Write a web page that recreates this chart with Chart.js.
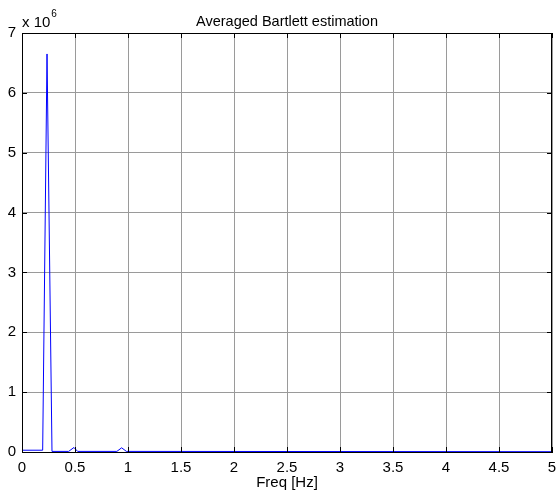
<!DOCTYPE html>
<html>
<head>
<meta charset="utf-8">
<script src="https://cdn.jsdelivr.net/npm/chart.js@4.4.0/dist/chart.umd.min.js"></script>
<style>
  html, body { margin: 0; padding: 0; background: #fff; }
  #wrap { width: 556px; height: 497px; }
</style>
</head>
<body>
<div id="wrap"><canvas id="bartlettChart"></canvas></div>
<script>
// values (frequency in Hz, power)
var freqHz = [0, 0.195, 0.236, 0.283, 0.44, 0.49, 0.525, 0.895, 0.94, 0.985, 5];
var power = [30000, 30000, 6650000, 10000, 10000, 75000, 10000, 10000, 70000, 10000, 5000];
var xTicks = [0, 0.5, 1, 1.5, 2, 2.5, 3, 3.5, 4, 4.5, 5];
var yTicks = [0, 1, 2, 3, 4, 5, 6, 7];
var chartTitle = "Averaged Bartlett estimation";

var fontFamily = "'Liberation Sans', Arial, sans-serif";

var points = freqHz.map(function (f, i) {
  return { x: f, y: power[i] };
});

// title over the plot box, box, inward ticks and the "x 10^6" exponent label
var matlabAxesPlugin = {
  id: "matlabAxes",
  afterDatasetsDraw: function (chart) {
    var ctx = chart.ctx;
    var area = chart.chartArea;
    var xs = chart.scales.x;
    var ys = chart.scales.y;
    ctx.save();
    ctx.strokeStyle = "#000";
    ctx.lineWidth = 1;
    ctx.beginPath();
    xTicks.forEach(function (t) {
      var px = Math.round(xs.getPixelForValue(t)) + 0.5;
      ctx.moveTo(px, area.top);
      ctx.lineTo(px, area.top + 5);
      ctx.moveTo(px, area.bottom);
      ctx.lineTo(px, area.bottom - 5);
    });
    yTicks.forEach(function (t) {
      var py = Math.round(ys.getPixelForValue(t * 1e6)) + 0.5;
      ctx.moveTo(area.left, py);
      ctx.lineTo(area.left + 5, py);
      ctx.moveTo(area.right, py);
      ctx.lineTo(area.right - 5, py);
    });
    ctx.stroke();
    ctx.strokeRect(
      Math.round(area.left) + 0.5,
      Math.round(area.top) + 0.5,
      Math.round(area.right - area.left) - 1,
      Math.round(area.bottom - area.top)
    );
    ctx.fillStyle = "#000";
    ctx.textBaseline = "alphabetic";
    ctx.textAlign = "center";
    ctx.font = "14.5px " + fontFamily;
    ctx.fillText(chartTitle, (area.left + area.right) / 2, 26);
    ctx.textAlign = "left";
    ctx.font = "15px " + fontFamily;
    ctx.fillText("x 10", area.left, 27);
    var w = ctx.measureText("x 10").width;
    ctx.font = "10px " + fontFamily;
    ctx.fillText("6", area.left + w + 1, 17);
    ctx.restore();
  },
};

var ctx = document.getElementById("bartlettChart").getContext("2d");
var bartlettChart = new Chart(ctx, {
  type: "line",
  data: {
    datasets: [
      {
        label: "Bartlett",
        data: points,
        borderColor: "#0000ff",
        borderWidth: 1,
        pointRadius: 0,
        tension: 0,
        fill: false,
      },
    ],
  },
  options: {
    responsive: true,
    maintainAspectRatio: false,
    animation: false,
    layout: {
      padding: { left: 0, right: 4, top: 33, bottom: 0 },
    },
    plugins: {
      legend: { display: false },
      tooltip: { enabled: false },
      title: { display: false },
    },
    scales: {
      x: {
        type: "linear",
        min: 0,
        max: 5,
        afterBuildTicks: function (scale) {
          scale.ticks = xTicks.map(function (v) {
            return { value: v };
          });
        },
        afterFit: function (scale) {
          scale.height = 45;
          scale.paddingLeft = 0;
          scale.paddingRight = 0;
        },
        ticks: {
          color: "#000",
          font: { family: fontFamily, size: 15 },
          padding: 7,
          maxRotation: 0,
          autoSkip: false,
          callback: function (v) {
            return String(v);
          },
        },
        grid: { color: "#9a9a9a", drawTicks: false },
        border: { display: true, color: "#000" },
        title: {
          display: true,
          text: "Freq [Hz]",
          color: "#000",
          font: { family: fontFamily, size: 15 },
          padding: { top: 0, bottom: 5 },
        },
      },
      y: {
        type: "linear",
        min: 0,
        max: 7000000,
        afterBuildTicks: function (scale) {
          scale.ticks = yTicks.map(function (v) {
            return { value: v * 1e6 };
          });
        },
        afterFit: function (scale) {
          scale.width = 22;
          scale.paddingTop = 0;
          scale.paddingBottom = 0;
        },
        ticks: {
          color: "#000",
          font: { family: fontFamily, size: 15 },
          padding: 6,
          callback: function (v) {
            return String(v / 1e6);
          },
        },
        grid: { color: "#9a9a9a", drawTicks: false },
        border: { display: true, color: "#000" },
      },
    },
  },
  plugins: [matlabAxesPlugin],
});
</script>
</body>
</html>
